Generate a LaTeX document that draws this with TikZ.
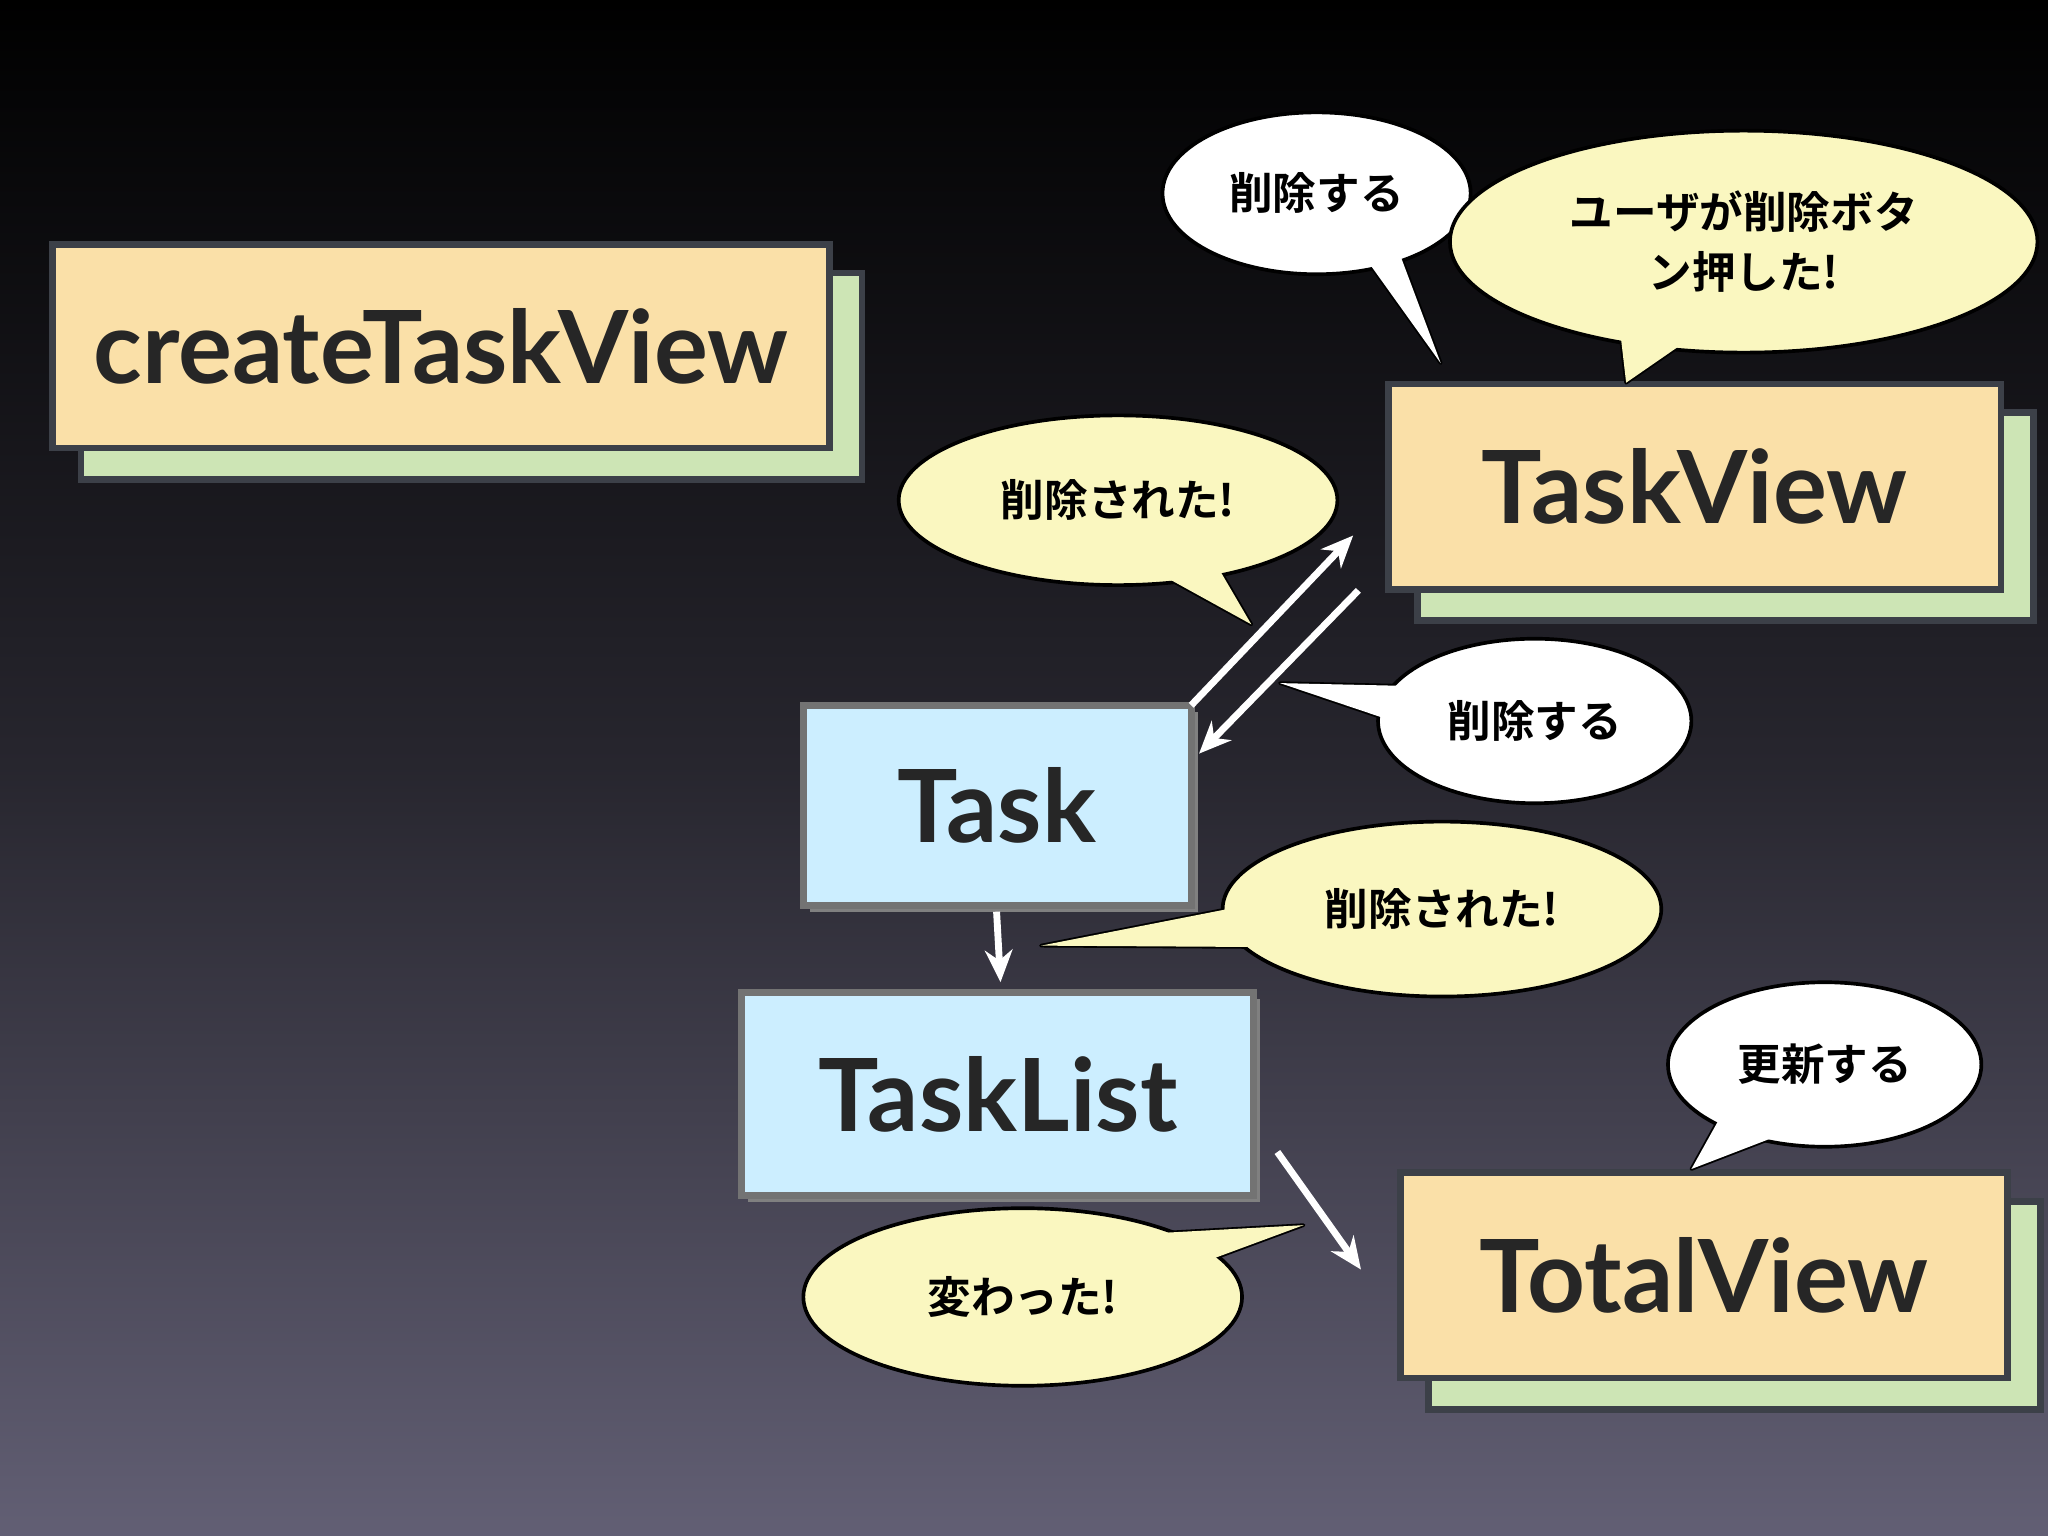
\documentclass[tikz,border=0pt]{standalone}
\usepackage{fontspec}
\setmainfont{Lato}
\newfontfamily\cjk{Noto Sans CJK JP}[BoldFont={* Bold}]
\usetikzlibrary{shapes.geometric}
\definecolor{orng}{HTML}{FAE0A8}
\definecolor{grn}{HTML}{CDE5B5}
\definecolor{blu}{HTML}{CCEEFF}
\definecolor{bord}{HTML}{3C4048}
\definecolor{ylw}{HTML}{FAF7C0}
\definecolor{bgbot}{HTML}{625F74}
\tikzset{
  big/.style={font=\fontsize{44}{48}\selectfont\bfseries, text=black!85},
  bub/.style={ellipse, draw=black, line width=1.6pt, font=\cjk\bfseries\fontsize{19}{26}\selectfont, align=center, inner sep=0pt},
  tl/.style={draw=black, line width=1.6pt, line join=round},
  arr/.style={white, line width=3pt, -{Stealth[length=14pt,width=12pt]}}
}
\usetikzlibrary{arrows.meta}
\begin{document}
\begin{tikzpicture}[x=0.02cm,y=-0.02cm]
\shade[top color=black, bottom color=bgbot, middle color=black!60!bgbot] (0,0) rectangle (1568,1176);
\useasboundingbox (0,0) rectangle (1568,1176);
% orange boxes
\newcommand{\obox}[5]{%
  \filldraw[fill=grn, draw=bord, line width=3pt] (#1+22,#2+22) rectangle (#3+25,#4+24);
  \filldraw[fill=orng, draw=bord, line width=3pt] (#1,#2) rectangle (#3,#4);
  \node[big] (#5) at ({(#1+#3)/2},{(#2+#4)/2}) {};}
\newcommand{\bbox}[4]{%
  \fill[black!50] (#1+5,#2+5) rectangle (#3+5,#4+5);
  \filldraw[fill=blu, draw=black!55, line width=3pt] (#1,#2) rectangle (#3,#4);}
\obox{40}{187}{635}{343}{ctv}
\node[big] at (ctv) {createTaskView};
\obox{1063}{294}{1532}{451}{tv}
\node[big] at (tv) {TaskView};
\obox{1072}{898}{1537}{1055}{tot}
\node[big] at (tot) {TotalView};
\bbox{615}{540}{912}{693}
\node[big] (task) at (763,617) {Task};
\bbox{568}{760}{960}{915}
\node[big] (tlist) at (764,838) {TaskList};
% arrows
\coordinate (a1s) at (912,540); \coordinate (a1e) at (1036,410);
\coordinate (a2s) at (1040,452); \coordinate (a2e) at (918,577);
\coordinate (a3s) at (763,698); \coordinate (a3e) at (766,752);
\coordinate (a4s) at (978,882); \coordinate (a4e) at (1042,972);
\draw[arr] (a1s) -- (a1e);
\draw[arr] (a2s) -- (a2e);
\draw[arr] (a3s) -- (a3e);
\draw[arr] (a4s) -- (a4e);
% bubbles: #1 name #2 x #3 y #4 rx #5 ry #6 color #7 tail base1 #8 base2 #9 tip
\newcommand{\bubble}[9]{%
  \filldraw[tl, fill=#6] #7 -- #9 -- #8;
  \node[bub, fill=#6, minimum width={#4*0.04cm}, minimum height={#5*0.04cm}] (#1) at (#2,#3) {};
  \fill[#6] #7 -- #9 -- #8 -- cycle;}
\bubble{b1}{1008}{148}{118}{62}{white}{(1040,190)}{(1070,190)}{(1103,278)}
\node[bub,draw=none] at (b1) {削除する};
\bubble{b2}{1335}{185}{225}{85}{ylw}{(1240,250)}{(1300,255)}{(1245,293)}
\node[bub,draw=none] at (b2) {ユーザが削除ボタ\\ン押した!};
\bubble{b3}{856}{383}{168}{65}{ylw}{(880,435)}{(930,430)}{(958,478)}
\node[bub,draw=none] at (b3) {削除された!};
\bubble{b4}{1175}{552}{120}{63}{white}{(1070,525)}{(1075,555)}{(980,523)}
\node[bub,draw=none] at (b4) {削除する};
\bubble{b5}{1104}{696}{168}{67}{ylw}{(945,695)}{(955,725)}{(797,724)}
\node[bub,draw=none] at (b5) {削除された!};
\bubble{b6}{1397}{815}{120}{63}{white}{(1320,850)}{(1360,870)}{(1295,895)}
\node[bub,draw=none] at (b6) {更新する};
\bubble{b7}{783}{993}{168}{68}{ylw}{(870,945)}{(925,965)}{(998,938)}
\node[bub,draw=none] at (b7) {変わった!};
\end{tikzpicture}
\end{document}
